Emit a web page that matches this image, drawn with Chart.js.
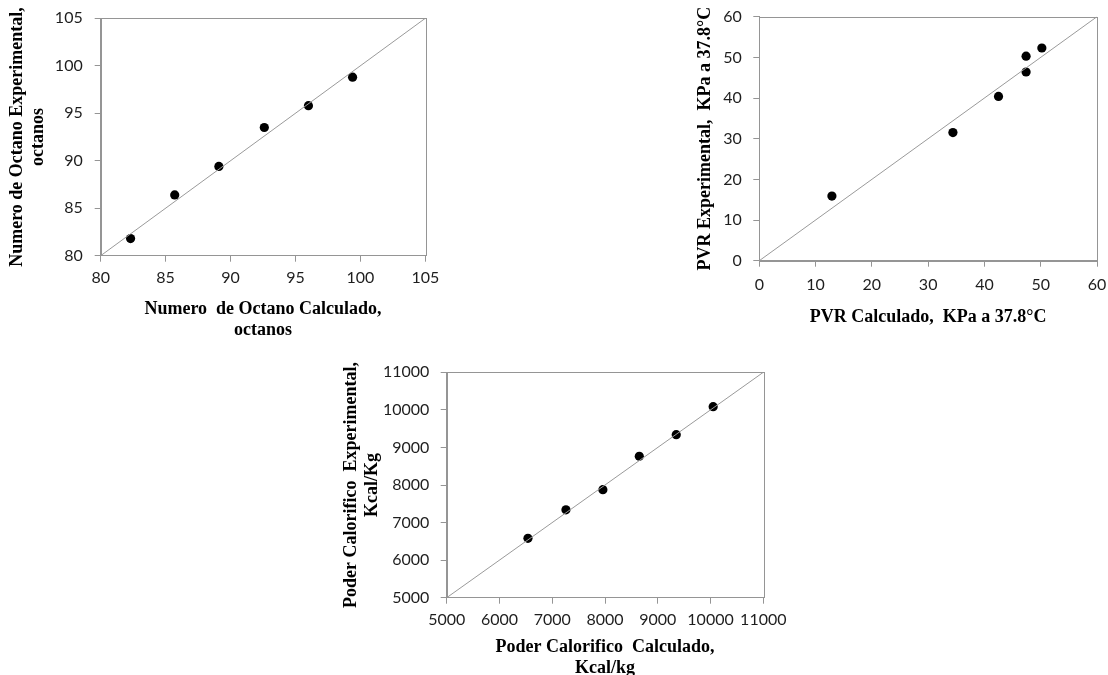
<!DOCTYPE html>
<html>
<head>
<meta charset="utf-8">
<script src="https://cdn.jsdelivr.net/npm/chart.js@4.4.1/dist/chart.umd.min.js"></script>
<style>
  html, body { margin: 0; padding: 0; background: #fff; overflow: hidden; }
  body { width: 1108px; height: 675px; position: relative; }
  canvas { position: absolute; }
</style>
</head>
<body>
<canvas id="octano" width="450" height="350" style="left:0px;top:0px"></canvas>
<canvas id="pvr" width="428" height="350" style="left:680px;top:0px"></canvas>
<canvas id="poder" width="460" height="330" style="left:330px;top:355px"></canvas>
<script>
// Numero de octano
var octCalc = [82.3, 85.7, 89.1, 92.6, 96.0, 99.4];
var octExp  = [81.8, 86.4, 89.4, 93.5, 95.8, 98.8];
var octRange = [80, 105];
var octStep = 5;

// PVR, KPa a 37.8°C
var pvrCalc = [12.9, 34.4, 42.5, 47.4, 47.4, 50.2];
var pvrExp  = [15.9, 31.5, 40.4, 46.4, 50.3, 52.3];
var pvrRange = [0, 60];
var pvrStep = 10;

// Poder calorifico, Kcal/kg
var poderCalc = [6540, 7260, 7960, 8650, 9350, 10050];
var poderExp  = [6580, 7340, 7875, 8765, 9340, 10085];
var poderRange = [5000, 11000];
var poderStep = 1000;

var axisGrey = '#959595';
var tickFont = { family: 'Lato', size: 16 };
var titleFont = { family: 'Liberation Serif', size: 18, weight: 'bold', lineHeight: 1.15 };

// caja alrededor del area de grafico
var boxPlugin = {
  id: 'box',
  afterDraw: function(chart) {
    var a = chart.chartArea;
    var ctx = chart.ctx;
    ctx.save();
    ctx.strokeStyle = axisGrey;
    ctx.lineWidth = 1;
    ctx.strokeRect(Math.round(a.left) + 0.5, Math.round(a.top) + 0.5,
                   Math.round(a.right - a.left), Math.round(a.bottom - a.top));
    ctx.restore();
  }
};

function pairs(xs, ys) {
  var out = [];
  for (var i = 0; i < xs.length; i++) {
    out.push({ x: xs[i], y: ys[i] });
  }
  return out;
}

// tamaño fijo de cada eje, sin el relleno automatico de las etiquetas
function fixSize(s, w, h) {
  if (w != null) s.width = w;
  if (h != null) s.height = h;
  s.paddingTop = 0;
  s.paddingBottom = 0;
  s.paddingLeft = 0;
  s.paddingRight = 0;
}

function makeChart(id, calc, exp, range, step, g) {
  var ctx = document.getElementById(id).getContext('2d');
  return new Chart(ctx, {
    type: 'scatter',
    data: {
      datasets: [{
        // linea 1:1
        data: pairs(range, range),
        showLine: true,
        borderColor: '#9a9a9a',
        borderWidth: 1,
        pointRadius: 0
      }, {
        data: pairs(calc, exp),
        backgroundColor: '#000',
        borderWidth: 0,
        pointRadius: 4.6
      }]
    },
    options: {
      responsive: false,
      animation: false,
      devicePixelRatio: 1,
      layout: { autoPadding: false, padding: { top: g.top, right: g.right, left: 0, bottom: 0 } },
      plugins: { legend: { display: false }, tooltip: { enabled: false } },
      scales: {
        x: {
          type: 'linear',
          min: range[0], max: range[1],
          afterFit: function(s) { fixSize(s, null, g.xh); },
          grid: { drawOnChartArea: false, drawTicks: true, tickLength: 6, color: axisGrey },
          border: { color: axisGrey },
          ticks: { stepSize: step, font: tickFont, color: '#1e1e1e', padding: g.xpad,
                   maxRotation: 0, callback: function(v) { return String(v); } },
          title: { display: true, text: g.xtitle, font: titleFont, color: '#000',
                   padding: { top: 0, bottom: g.xtpad } }
        },
        y: {
          type: 'linear',
          min: range[0], max: range[1],
          afterFit: function(s) { fixSize(s, g.yw, null); },
          grid: { drawOnChartArea: false, drawTicks: true, tickLength: 6, color: axisGrey },
          border: { color: axisGrey },
          ticks: { stepSize: step, font: tickFont, color: '#1e1e1e', padding: g.ypad,
                   callback: function(v) { return String(v); } },
          title: { display: true, text: g.ytitle, font: titleFont, color: '#000',
                   padding: { top: g.ytpad, bottom: 0 } }
        }
      }
    },
    plugins: [boxPlugin]
  });
}

makeChart('octano', octCalc, octExp, octRange, octStep, {
  top: 18.3, right: 24.7, yw: 100.7, xh: 94.3, xpad: 7, ypad: 12,
  xtitle: ['Numero  de Octano Calculado,', 'octanos'], xtpad: 9.4,
  ytitle: ['Numero de Octano Experimental,', 'octanos'], ytpad: 7.1
});

makeChart('pvr', pvrCalc, pvrExp, pvrRange, pvrStep, {
  top: 16.7, right: 11, yw: 79.3, xh: 89.3, xpad: 9, ypad: 11.6,
  xtitle: 'PVR Calculado,  KPa a 37.8°C', xtpad: 22.8,
  ytitle: 'PVR Experimental,  KPa a 37.8°C', ytpad: 14.6
});

makeChart('poder', poderCalc, poderExp, poderRange, poderStep, {
  top: 17.3, right: 26.7, yw: 116.7, xh: 87.3, xpad: 7, ypad: 11.4,
  xtitle: ['Poder Calorifico  Calculado,', 'Kcal/kg'], xtpad: 6.4,
  ytitle: ['Poder Calorifico  Experimental,', 'Kcal/Kg'], ytpad: 11.3
});
</script>
</body>
</html>
